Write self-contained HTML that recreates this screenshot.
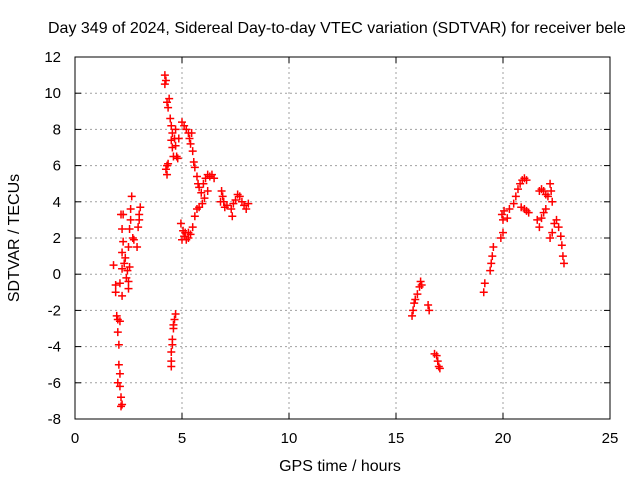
<!DOCTYPE html>
<html><head><meta charset="utf-8"><style>
body{margin:0;background:#fff}
svg text{font-family:"Liberation Sans",sans-serif;font-size:15px;fill:#000}
svg text.big{font-size:16px}
</style></head><body>
<svg id="chart" width="640" height="480" xmlns="http://www.w3.org/2000/svg">
<text class="big" x="48" y="33">Day 349 of 2024, Sidereal Day-to-day VTEC variation (SDTVAR) for receiver bele</text>
<g id="grid"></g>
<g id="ticks"></g>
<g id="marks"></g>
<rect x="75" y="57" width="535" height="362" fill="none" stroke="#000" stroke-width="1"/>
<text class="big" x="340" y="471" text-anchor="middle">GPS time / hours</text>
<text class="big" transform="translate(19,238) rotate(-90)" text-anchor="middle">SDTVAR / TECUs</text>
</svg>
<script>
const xTicks=[0,5,10,15,20,25];
const yTicks=[-8,-6,-4,-2,0,2,4,6,8,10,12];
const times=[1.8,1.9,1.9,1.95,2.0,2.0,2.05,2.05,2.1,2.1,2.15,2.15,2.2,2.0,2.2,2.1,
2.1,2.2,2.2,2.25,2.2,2.15,2.25,2.3,2.35,2.4,2.45,2.5,2.5,2.55,2.5,2.55,2.6,2.6,2.65,2.7,2.75,2.9,2.95,3.0,3.05,3.0,
4.2,4.2,4.25,4.3,4.35,4.4,4.45,4.5,4.55,4.5,4.55,4.6,4.65,4.7,4.3,4.25,4.3,4.35,4.7,4.75,4.8,4.85,5.0,5.1,5.2,5.3,5.35,5.4,5.45,5.5,5.55,5.6,5.7,5.75,5.8,5.9,6.0,6.1,6.2,6.3,6.05,6.2,5.95,5.8,5.7,5.6,5.5,5.4,5.3,5.2,5.1,5.0,4.95,5.05,5.15,5.3,6.8,6.85,6.9,6.95,7.0,7.1,7.3,7.35,7.4,7.5,7.6,7.7,7.8,7.9,8.0,8.1,6.5,6.4,
4.5,4.5,4.5,4.55,4.6,4.6,4.65,4.7,4.55,
15.75,15.8,15.85,15.9,16.0,16.1,16.15,16.2,16.5,16.55,16.8,16.9,16.95,17.0,17.05,
19.1,19.15,19.4,19.45,19.5,19.55,19.9,20.0,20.0,19.95,20.05,20.2,20.3,20.5,20.6,20.7,20.8,20.9,21.0,21.1,20.85,21.0,21.1,21.2,21.6,21.7,21.8,21.9,22.0,21.7,21.8,21.9,22.0,22.1,22.2,22.25,22.3,22.2,22.3,22.4,22.5,22.6,22.7,22.75,22.8,22.85];
const values=[0.5,-0.6,-1.0,-2.3,-2.5,-3.2,-3.9,-5.0,-5.5,-6.2,-6.8,-7.3,-7.2,-6.0,-1.2,-2.6,
-0.5,0.3,1.2,1.8,2.5,3.3,3.3,0.6,0.9,-0.2,0.2,-0.8,-0.4,0.4,1.5,2.5,3.0,3.6,4.3,2.0,1.9,1.5,2.6,3.3,3.7,3.0,
11.0,10.5,10.7,9.5,9.2,9.7,8.6,8.2,7.8,7.4,7.0,6.5,7.5,8.0,6.0,5.8,5.5,6.1,7.1,6.5,6.4,7.5,8.4,8.2,8.0,7.8,7.5,7.2,7.8,6.8,6.2,5.9,5.4,5.0,4.8,4.5,5.0,5.3,5.5,5.4,4.2,4.6,3.9,3.7,3.6,3.2,2.6,2.2,2.0,1.9,2.1,1.9,2.8,2.4,2.3,2.3,4.0,4.6,4.3,4.0,3.7,3.8,3.6,3.2,3.9,4.1,4.4,4.3,4.0,3.8,3.6,3.9,5.3,5.5,
-5.1,-4.8,-4.3,-3.6,-3.0,-2.8,-2.5,-2.2,-3.9,
-2.3,-2.0,-1.6,-1.4,-1.1,-0.7,-0.4,-0.6,-1.7,-2.0,-4.4,-4.5,-4.8,-5.1,-5.2,
-1.0,-0.5,0.2,0.6,1.0,1.5,2.0,2.3,3.0,3.3,3.5,3.1,3.6,3.9,4.3,4.7,5.0,5.2,5.3,5.2,3.7,3.6,3.5,3.4,3.0,2.6,3.1,3.4,3.6,4.6,4.7,4.6,4.4,4.3,5.0,4.6,4.0,2.0,2.3,2.8,3.0,2.6,2.1,1.6,1.0,0.6];
const X0=75,X1=610,Y0=419,Y1=57,xMin=0,xMax=25,yMin=-8,yMax=12;
function sx(t){return X0+(t-xMin)/(xMax-xMin)*(X1-X0);}
function sy(v){return Y0-(v-yMin)/(yMax-yMin)*(Y0-Y1);}
const NS="http://www.w3.org/2000/svg";
const grid=document.getElementById('grid'),ticks=document.getElementById('ticks'),marks=document.getElementById('marks');
function mk(tag,attrs,parent){const e=document.createElementNS(NS,tag);for(const k in attrs)e.setAttribute(k,attrs[k]);parent.appendChild(e);return e;}
xTicks.forEach(t=>{const x=sx(t);
 if(t>xMin&&t<xMax){const g=mk('line',{x1:x,x2:x,y1:Y1,y2:Y0,stroke:'#a0a0a0','stroke-dasharray':'2,3'},grid);
 
 }
 const a=mk('line',{x1:x,x2:x,y1:Y0,y2:Y0-6,stroke:'#000'},ticks);
 
 
 const b=mk('line',{x1:x,x2:x,y1:Y1,y2:Y1+6,stroke:'#000'},ticks);
 
 
 const l=mk('text',{x:x,y:Y0+24,'text-anchor':'middle'},ticks);l.textContent=t;
 
 });
yTicks.forEach(v=>{const y=sy(v);
 if(v>yMin&&v<yMax){const g=mk('line',{x1:X0,x2:X1,y1:y,y2:y,stroke:'#a0a0a0','stroke-dasharray':'2,3'},grid);
 
 }
 const a=mk('line',{x1:X0,x2:X0+6,y1:y,y2:y,stroke:'#000'},ticks);
 
 
 const b=mk('line',{x1:X1,x2:X1-6,y1:y,y2:y,stroke:'#000'},ticks);
 
 
 const l=mk('text',{x:X0-14,y:y+5,'text-anchor':'end'},ticks);l.textContent=v;
 
 });
times.forEach((t,i)=>{const x=sx(t),y=sy(values[i]);
 const p=mk('path',{d:`M${x-4},${y}H${x+4}M${x},${y-4}V${y+4}`,stroke:'#f00','stroke-width':1.5},marks);
 
 });
</script>
</body></html>
